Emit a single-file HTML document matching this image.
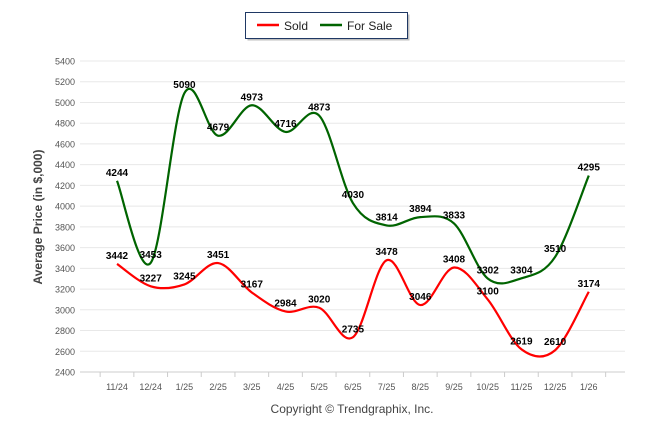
<!DOCTYPE html>
<html><head><meta charset="utf-8"><style>
body{margin:0;background:#fff;font-family:"Liberation Sans",Arial,sans-serif}
svg text{font-family:"Liberation Sans",Arial,sans-serif}
</style></head><body>
<svg id="c" width="646" height="434">
<g>
<rect x="245.5" y="12.5" width="162" height="26" fill="#000" opacity="0.25" transform="translate(2,2)"/>
<rect x="245.5" y="12.5" width="162" height="26" fill="#fff" stroke="#1f3864"/>
<line x1="257" y1="25" x2="279" y2="25" stroke="#f00" stroke-width="2.5"/>
<text x="284" y="30" font-size="12" fill="#222">Sold</text>
<line x1="320" y1="25" x2="342" y2="25" stroke="#006400" stroke-width="2.5"/>
<text x="347" y="30" font-size="12" fill="#222">For Sale</text>
</g>
<text transform="translate(42,217) rotate(-90)" text-anchor="middle" font-size="12" font-weight="bold" fill="#444">Average Price (in $,000)</text>
<text x="352" y="413" text-anchor="middle" font-size="12" fill="#444">Copyright © Trendgraphix, Inc.</text>
<g id="grid"></g><g id="lines"></g><g id="labels"></g>
</svg>
<script>
const categories=["11/24","12/24","1/25","2/25","3/25","4/25","5/25","6/25","7/25","8/25","9/25","10/25","11/25","12/25","1/26"];
const sold=[3442,3227,3245,3451,3167,2984,3020,2735,3478,3046,3408,3100,2619,2610,3174];
const forSale=[4244,3453,5090,4679,4973,4716,4873,4030,3814,3894,3833,3302,3304,3510,4295];
const yTicks=[2400,2600,2800,3000,3200,3400,3600,3800,4000,4200,4400,4600,4800,5000,5200,5400];
const NS="http://www.w3.org/2000/svg";
const y=v=>372-(v-2400)*(311/3000);
const x=i=>117+i*33.7;
function mk(t,a,p){const e=document.createElementNS(NS,t);for(const k in a)e.setAttribute(k,a[k]);p.appendChild(e);return e;}
const g=document.getElementById('grid');
yTicks.forEach(v=>{
 const l=mk('line',{x1:80,x2:625,y1:y(v),y2:y(v),stroke:v===2400?'#ccc':'#e8e8e8'},g);
 
 
 const t=mk('text',{x:75,y:y(v)+3.5,'text-anchor':'end','font-size':9,fill:'#555'},g);t.textContent=v;
 
 
});
for(let i=0;i<=categories.length;i++){mk('line',{x1:x(i)-16.85,x2:x(i)-16.85,y1:372,y2:377,stroke:'#ccc'},g);}
categories.forEach((c,i)=>{const t=mk('text',{x:x(i),y:390,'text-anchor':'middle','font-size':9,fill:'#555'},g);t.textContent=c;
 
 });
function path(d){const p=d.map((v,i)=>[x(i),y(v)]);let s=`M${p[0][0]},${p[0][1]}`;
 for(let i=0;i<p.length-1;i++){const p0=p[Math.max(0,i-1)],p1=p[i],p2=p[i+1],p3=p[Math.min(p.length-1,i+2)];
 const c1=[p1[0]+(p2[0]-p0[0])/6,p1[1]+(p2[1]-p0[1])/6],c2=[p2[0]-(p3[0]-p1[0])/6,p2[1]-(p3[1]-p1[1])/6];
 s+=`C${c1[0]},${c1[1]} ${c2[0]},${c2[1]} ${p2[0]},${p2[1]}`;}return s;}
const L=document.getElementById('lines'),Lb=document.getElementById('labels');
[[forSale,'#006400','for-sale-line'],[sold,'#f00','sold-line']].forEach(([d,col,n])=>{
 const p=mk('path',{d:path(d),fill:'none',stroke:col,'stroke-width':2.2},L);
 
 
 d.forEach((v,i)=>{const t=mk('text',{x:x(i),y:y(v)-5,'text-anchor':'middle','font-size':10,'font-weight':'bold',fill:'#000'},Lb);t.textContent=v;
 
 });
});
</script>
</body></html>
